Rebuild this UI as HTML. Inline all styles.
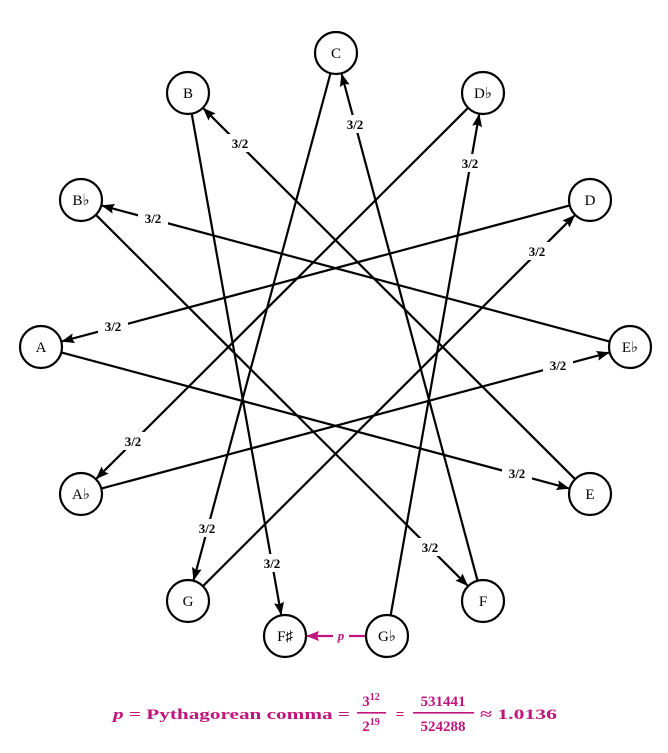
<!DOCTYPE html>
<html><head><meta charset="utf-8"><style>
html,body{margin:0;padding:0;background:#fff;}
svg{display:block;font-family:"Liberation Serif",serif;}
</style></head><body>
<svg id="s" width="668" height="753" viewBox="0 0 668 753" xmlns="http://www.w3.org/2000/svg">
<defs>
<marker id="ar" markerWidth="13" markerHeight="10" refX="12" refY="5" orient="auto" markerUnits="userSpaceOnUse"><path d="M0,0 L13,5 L0,10 L2,5 Z" fill="#000"/></marker>
<marker id="am" markerWidth="13" markerHeight="10" refX="12" refY="5" orient="auto" markerUnits="userSpaceOnUse"><path d="M0,0 L13,5 L0,10 L2,5 Z" fill="#c0157a"/></marker>
</defs>
<g id="lines" stroke="#000" stroke-width="2.2" fill="none"></g>
<g id="labs" font-weight="bold" font-size="13" text-anchor="middle">
<g><rect x="192" y="519" width="30" height="18" fill="#fff"/><text x="207" y="533">3/2</text></g>
<g><rect x="522" y="242" width="30" height="18" fill="#fff"/><text x="537" y="256">3/2</text></g>
<g><rect x="98" y="317" width="30" height="18" fill="#fff"/><text x="113" y="331">3/2</text></g>
<g><rect x="502" y="464" width="30" height="18" fill="#fff"/><text x="517" y="478">3/2</text></g>
<g><rect x="225" y="134" width="30" height="18" fill="#fff"/><text x="240" y="148">3/2</text></g>
<g><rect x="257" y="554" width="30" height="18" fill="#fff"/><text x="272" y="568">3/2</text></g>
<g><rect x="455" y="154" width="30" height="18" fill="#fff"/><text x="470" y="168">3/2</text></g>
<g><rect x="118" y="432" width="30" height="18" fill="#fff"/><text x="133" y="446">3/2</text></g>
<g><rect x="543" y="356" width="30" height="18" fill="#fff"/><text x="558" y="370">3/2</text></g>
<g><rect x="138" y="209" width="30" height="18" fill="#fff"/><text x="153" y="223">3/2</text></g>
<g><rect x="415" y="538" width="30" height="18" fill="#fff"/><text x="430" y="552">3/2</text></g>
<g><rect x="340" y="115" width="30" height="18" fill="#fff"/><text x="355" y="129">3/2</text></g>
<g fill="#c0157a"><rect x="333" y="627" width="16" height="18" fill="#fff"/><text x="341" y="640" font-style="italic">p</text></g>
</g>
<g id="nodes" font-size="15" text-anchor="middle">
<g><circle cx="336" cy="53" r="21" fill="#fff" stroke="#000" stroke-width="2.2"/><text x="336" y="58">C</text></g>
<g><circle cx="188" cy="93" r="21" fill="#fff" stroke="#000" stroke-width="2.2"/><text x="188" y="98">B</text></g>
<g><circle cx="483" cy="93" r="21" fill="#fff" stroke="#000" stroke-width="2.2"/><text x="483" y="98">D♭</text></g>
<g><circle cx="81" cy="200" r="21" fill="#fff" stroke="#000" stroke-width="2.2"/><text x="81" y="205">B♭</text></g>
<g><circle cx="590" cy="200" r="21" fill="#fff" stroke="#000" stroke-width="2.2"/><text x="590" y="205">D</text></g>
<g><circle cx="41" cy="347" r="21" fill="#fff" stroke="#000" stroke-width="2.2"/><text x="41" y="352">A</text></g>
<g><circle cx="630" cy="347" r="21" fill="#fff" stroke="#000" stroke-width="2.2"/><text x="630" y="352">E♭</text></g>
<g><circle cx="81" cy="494" r="21" fill="#fff" stroke="#000" stroke-width="2.2"/><text x="81" y="499">A♭</text></g>
<g><circle cx="590" cy="494" r="21" fill="#fff" stroke="#000" stroke-width="2.2"/><text x="590" y="499">E</text></g>
<g><circle cx="188" cy="601" r="21" fill="#fff" stroke="#000" stroke-width="2.2"/><text x="188" y="606">G</text></g>
<g><circle cx="483" cy="601" r="21" fill="#fff" stroke="#000" stroke-width="2.2"/><text x="483" y="606">F</text></g>
<g><circle cx="285" cy="636" r="21" fill="#fff" stroke="#000" stroke-width="2.2"/><text x="285" y="641">F♯</text></g>
<g><circle cx="387" cy="636" r="21" fill="#fff" stroke="#000" stroke-width="2.2"/><text x="387" y="641">G♭</text></g>
</g>
<g fill="#c0157a" font-weight="bold" font-size="15">
<text x="113" y="719" textLength="237" lengthAdjust="spacingAndGlyphs"><tspan font-style="italic">p</tspan> = Pythagorean comma =</text>
<text x="371" y="706" text-anchor="middle">3<tspan font-size="10" dy="-6">12</tspan></text>
<rect x="357" y="712" width="29" height="1.6"/>
<text x="371" y="731" text-anchor="middle">2<tspan font-size="10" dy="-6">19</tspan></text>
<text x="400" y="719" text-anchor="middle">=</text>
<text x="443" y="706" text-anchor="middle">531441</text>
<rect x="413" y="712" width="61" height="1.6"/>
<text x="443" y="731" text-anchor="middle">524288</text>
<text x="480" y="719" textLength="77" lengthAdjust="spacingAndGlyphs">≈ 1.0136</text>
</g>
</svg>
<script>
var N={C:[336,53],B:[188,93],Db:[483,93],Bb:[81,200],D:[590,200],A:[41,347],Eb:[630,347],Ab:[81,494],E:[590,494],G:[188,601],F:[483,601],Fs:[285,636],Gb:[387,636]};
var E=[["C","G"],["G","D"],["D","A"],["A","E"],["E","B"],["B","Fs"],["Gb","Db"],["Db","Ab"],["Ab","Eb"],["Eb","Bb"],["Bb","F"],["F","C"],["Gb","Fs",1]];
var g=document.getElementById("lines"),ns="http://www.w3.org/2000/svg";
E.forEach(function(e){var a=N[e[0]],b=N[e[1]],dx=b[0]-a[0],dy=b[1]-a[1],L=Math.hypot(dx,dy),ux=dx/L,uy=dy/L,r=21;
var l=document.createElementNS(ns,"line");l.setAttribute("x1",a[0]+ux*r);l.setAttribute("y1",a[1]+uy*r);l.setAttribute("x2",b[0]-ux*(r+1));l.setAttribute("y2",b[1]-uy*(r+1));
if(e[2]){l.setAttribute("stroke","#c0157a");l.setAttribute("marker-end","url(#am)");}else l.setAttribute("marker-end","url(#ar)");g.appendChild(l);});
</script>
</body></html>
